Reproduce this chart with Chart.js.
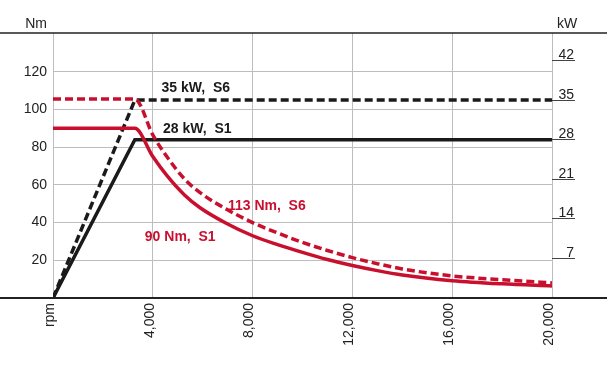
<!DOCTYPE html>
<html>
<head>
<meta charset="utf-8">
<script src="https://cdn.jsdelivr.net/npm/chart.js@4.4.0/dist/chart.umd.min.js"></script>
<style>
  body { margin: 0; background: #fff; }
  #wrap { width: 607px; height: 370px; position: relative; }
</style>
</head>
<body>
<div id="wrap"><canvas id="motorChart"></canvas></div>
<script>
// power curves (kW, right axis)
const powerRpm = [0, 3280, 20000];
const powerS1 = [0, 28, 28];
const powerS6 = [0, 35, 35];

// torque curves (Nm, left axis)
const torqueRpm = [0, 3280, 4000, 4560, 5280, 5880, 6960, 8000, 9000, 10000, 11000, 12000, 13000, 14000, 16000, 18000, 20000];
const torqueS1 = [90, 90, 75, 65, 54.5, 48, 39.5, 33, 28.3, 24.2, 20.4, 17.2, 14.5, 12.2, 9.2, 7.5, 6.4];
const torqueS6 = [105.5, 105.5, 86.5, 75, 63, 56, 47, 40, 34.5, 29.5, 25.2, 21.4, 18.2, 15.4, 11.7, 9.7, 8];

const rpmTicks = [0, 4000, 8000, 12000, 16000, 20000];
const nmTicks = [20, 40, 60, 80, 100, 120];
const kwTicks = [7, 14, 21, 28, 35, 42];

const notes = [
  { text: '35 kW,  S6', x: 4350, y: 36.5, axis: 'yR', color: '#1a1a1a' },
  { text: '28 kW,  S1', x: 4410, y: 29.1, axis: 'yR', color: '#1a1a1a' },
  { text: '113 Nm,  S6', x: 7010, y: 46.5, axis: 'y', color: '#c8102e' },
  { text: '90 Nm,  S1', x: 3680, y: 30.2, axis: 'y', color: '#c8102e' }
];

const RED = '#c8102e';
const BLACK = '#1a1a1a';
const FONT = '"Liberation Sans", Arial, sans-serif';

const toPoints = (xs, ys) => xs.map((x, i) => ({ x: x, y: ys[i] }));

const frameLines = {
  id: 'frameLines',
  afterDraw(chart) {
    const { ctx, chartArea, width } = chart;
    ctx.save();
    ctx.strokeStyle = '#222';
    ctx.lineWidth = 1.5;
    ctx.beginPath();
    ctx.moveTo(0, chartArea.top);
    ctx.lineTo(width, chartArea.top);
    ctx.stroke();
    ctx.lineWidth = 2;
    ctx.beginPath();
    ctx.moveTo(0, chartArea.bottom);
    ctx.lineTo(width, chartArea.bottom);
    ctx.stroke();

    ctx.fillStyle = '#222';
    ctx.font = '14px ' + FONT;
    ctx.textBaseline = 'alphabetic';
    ctx.textAlign = 'right';
    ctx.fillText('Nm', chartArea.left - 6, 28);
    // kW labels sit on top of their tick marks
    const yR = chart.scales.yR;
    kwTicks.forEach(v => {
      ctx.fillText(String(v), chartArea.right + 22, yR.getPixelForValue(v) - 1.5);
    });
    ctx.textAlign = 'left';
    ctx.fillText('kW', chartArea.right + 5, 28);

    ctx.font = 'bold 14px ' + FONT;
    notes.forEach(n => {
      ctx.fillStyle = n.color;
      ctx.fillText(n.text, chart.scales.x.getPixelForValue(n.x), chart.scales[n.axis].getPixelForValue(n.y));
    });
    ctx.restore();
  }
};

const ctx = document.getElementById('motorChart').getContext('2d');
const chart = new Chart(ctx, {
  type: 'line',
  data: {
    datasets: [
      {
        label: 'Torque S6',
        data: toPoints(torqueRpm, torqueS6),
        yAxisID: 'y',
        borderColor: RED,
        borderWidth: 3.5,
        borderDash: [8, 4],
        cubicInterpolationMode: 'monotone',
        pointRadius: 0
      },
      {
        label: 'Torque S1',
        data: toPoints(torqueRpm, torqueS1),
        yAxisID: 'y',
        borderColor: RED,
        borderWidth: 3.5,
        cubicInterpolationMode: 'monotone',
        pointRadius: 0
      },
      {
        label: 'Power S6',
        data: toPoints(powerRpm, powerS6),
        yAxisID: 'yR',
        borderColor: BLACK,
        borderWidth: 3.5,
        borderDash: [8, 4],
        pointRadius: 0
      },
      {
        label: 'Power S1',
        data: toPoints(powerRpm, powerS1),
        yAxisID: 'yR',
        borderColor: BLACK,
        borderWidth: 3.5,
        pointRadius: 0
      }
    ]
  },
  options: {
    responsive: true,
    maintainAspectRatio: false,
    animation: false,
    layout: { padding: { top: 33 } },
    plugins: {
      legend: { display: false },
      tooltip: { enabled: false }
    },
    scales: {
      x: {
        type: 'linear',
        min: 0,
        max: 20000,
        afterBuildTicks: scale => { scale.ticks = rpmTicks.map(v => ({ value: v })); },
        afterFit: scale => { scale.height = 72; },
        grid: { color: '#bdbdbd', drawTicks: false },
        border: { display: false },
        ticks: {
          autoSkip: false,
          maxRotation: 90,
          minRotation: 90,
          padding: 5,
          labelOffset: -3,
          color: '#222',
          font: { family: FONT, size: 14 },
          callback: v => v === 0 ? 'rpm' : v.toLocaleString('en-US')
        }
      },
      y: {
        position: 'left',
        min: 0,
        max: 140.5,
        afterBuildTicks: scale => { scale.ticks = nmTicks.map(v => ({ value: v })); },
        afterFit: scale => { scale.width = 53; },
        grid: { color: '#bdbdbd', drawTicks: false },
        border: { display: false },
        ticks: {
          padding: 6,
          color: '#222',
          font: { family: FONT, size: 14 }
        }
      },
      yR: {
        position: 'right',
        min: 0,
        max: 46.87,
        afterBuildTicks: scale => { scale.ticks = kwTicks.map(v => ({ value: v })); },
        afterFit: scale => { scale.width = 55; },
        grid: { drawOnChartArea: false, drawTicks: true, tickLength: 23, tickColor: '#444' },
        border: { display: false },
        ticks: { display: false }
      }
    }
  },
  plugins: [frameLines]
});
</script>
</body>
</html>
